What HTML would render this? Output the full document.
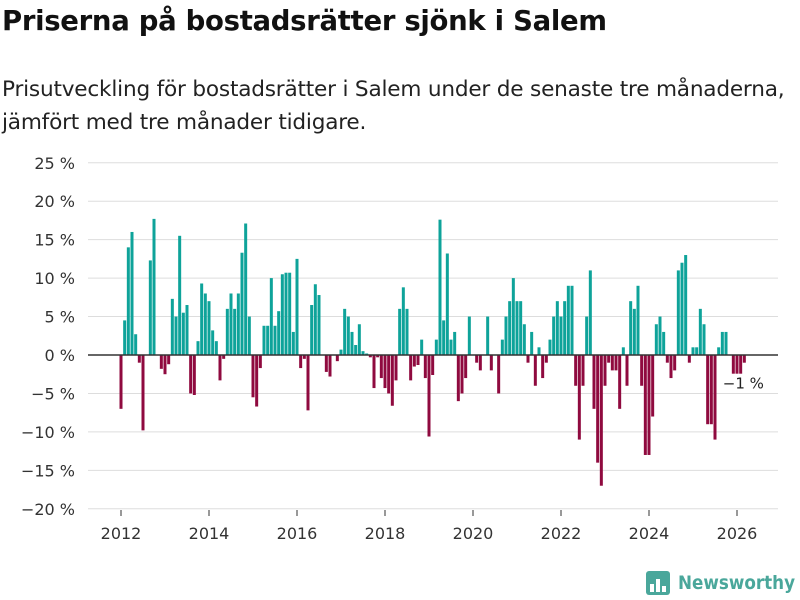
<!DOCTYPE html>
<html><head><meta charset="utf-8"><style>
body{margin:0;background:#fff;font-family:"Liberation Sans","DejaVu Sans",sans-serif;}
#wrap{position:relative;width:800px;height:600px;overflow:hidden}
h1{position:absolute;left:2px;top:5px;margin:0;font-size:27.5px;font-weight:bold;color:#111;font-family:"DejaVu Sans","Liberation Sans",sans-serif;letter-spacing:-0.3px}
p{position:absolute;left:2px;top:73px;margin:0;font-size:21.6px;line-height:33px;color:#222;font-family:"DejaVu Sans","Liberation Sans",sans-serif;letter-spacing:-0.2px}
</style></head><body><div id="wrap">
<h1>Priserna på bostadsrätter sjönk i Salem</h1>
<p>Prisutveckling för bostadsrätter i Salem under de senaste tre månaderna,<br>jämfört med tre månader tidigare.</p>
<svg id="chart" width="800" height="600" style="position:absolute;left:0;top:0"></svg>
</div>
<script>
const yTicks=[25,20,15,10,5,0,-5,-10,-15,-20];
const yTickLabels=["25 %","20 %","15 %","10 %","5 %","0 %","−5 %","−10 %","−15 %","−20 %"];
const xTicks=[2012,2014,2016,2018,2020,2022,2024,2026];
const startYear=2012;
const values=[
-7,4.5,14,16,2.7,-1,-9.8,0,12.3,17.7,0,-1.8,
-2.5,-1.2,7.3,5,15.5,5.5,6.5,-5,-5.2,1.8,9.3,8,
7,3.2,1.8,-3.3,-0.5,6,8,6,8,13.3,17.1,5,
-5.5,-6.7,-1.7,3.8,3.8,10,3.8,5.7,10.5,10.7,10.7,3,
12.5,-1.7,-0.5,-7.2,6.5,9.2,7.8,0,-2.2,-2.8,0,-0.8,
0.7,6,5,3,1.3,4,0.5,0.2,-0.3,-4.3,-0.3,-3,
-4.3,-5,-6.6,-3.3,6,8.8,6,-3.3,-1.5,-1.3,2,-3,
-10.6,-2.6,2,17.6,4.5,13.2,2,3,-6,-5,-3,5,
0,-1,-2,0,5,-2,0,-5,2,5,7,10,
7,7,4,-1,3,-4,1,-3,-1,2,5,7,
5,7,9,9,-4,-11,-4,5,11,-7,-14,-17,
-4,-1,-2,-2,-7,1,-4,7,6,9,-4,-13,
-13,-8,4,5,3,-1,-3,-2,11,12,13,-1,
1,1,6,4,-9,-9,-11,1,3,3,0,-3,
-4.8,-2.5,-1];
const lastLabel="−1 %";
const NS="http://www.w3.org/2000/svg";
const svg=document.getElementById('chart');
const y=v=>355-v*7.69;
const x=i=>121+i*44/12;
function mk(t,a){const e=document.createElementNS(NS,t);for(const k in a)e.setAttribute(k,a[k]);svg.appendChild(e);return e;}
yTicks.forEach((t,i)=>{
 const g=mk('line',{x1:88,x2:778,y1:y(t),y2:y(t),stroke:'#ddd','stroke-width':1});
 
 
 const l=mk('text',{x:75,y:y(t)+6,'text-anchor':'end','font-size':16,fill:'#333','font-family':'DejaVu Sans, Liberation Sans, sans-serif'});
 l.textContent=yTickLabels[i];
 
 
});
xTicks.forEach(t=>{
 const xx=x((t-startYear)*12);
 const tk=mk('line',{x1:xx,x2:xx,y1:510,y2:516,stroke:'#333'});
 
 
 const l=mk('text',{x:xx,y:539,'text-anchor':'middle','font-size':16,fill:'#333','font-family':'DejaVu Sans, Liberation Sans, sans-serif'});
 l.textContent=t;
 
 
});
values.forEach((v,i)=>{
 const r=mk('rect',{x:x(i)-1.5,width:3,y:Math.min(y(v),y(0)),height:Math.abs(y(v)-y(0)),fill:v>=0?'#0ea39a':'#8f0a3f'});
 
 
});
const z=mk('line',{x1:88,x2:778,y1:y(0),y2:y(0),stroke:'#333','stroke-width':1.5});


const li=values.length-1;
const lb=mk('rect',{x:x(li)-20,y:y(values[li])+11,width:38,height:19,fill:'#fff'});


const lt=mk('text',{x:x(li)-1,y:y(values[li])+26,'text-anchor':'middle','font-size':15,fill:'#222','font-family':'DejaVu Sans, Liberation Sans, sans-serif'});
lt.textContent=lastLabel;


const lg=mk('g',{});


const box=document.createElementNS(NS,'rect');
[['x',646],['y',571],['width',24],['height',24],['rx',3],['fill','#4aa79b']].forEach(a=>box.setAttribute(a[0],a[1]));
lg.appendChild(box);
[[650,584,4,8],[656,579,4,13],[662,586,4,6]].forEach(b=>{const r=document.createElementNS(NS,'rect');r.setAttribute('x',b[0]);r.setAttribute('y',b[1]);r.setAttribute('width',b[2]);r.setAttribute('height',b[3]);r.setAttribute('fill','#fff');lg.appendChild(r);});
const lgt=document.createElementNS(NS,'text');
lgt.setAttribute('x',678);lgt.setAttribute('y',589);lgt.setAttribute('font-size',19);lgt.setAttribute('font-weight','bold');lgt.setAttribute('fill','#4aa79b');lgt.setAttribute('font-family','DejaVu Sans, Liberation Sans, sans-serif');
lgt.setAttribute('textLength',117);lgt.setAttribute('lengthAdjust','spacingAndGlyphs');
lgt.textContent='Newsworthy';
lg.appendChild(lgt);
</script></body></html>
